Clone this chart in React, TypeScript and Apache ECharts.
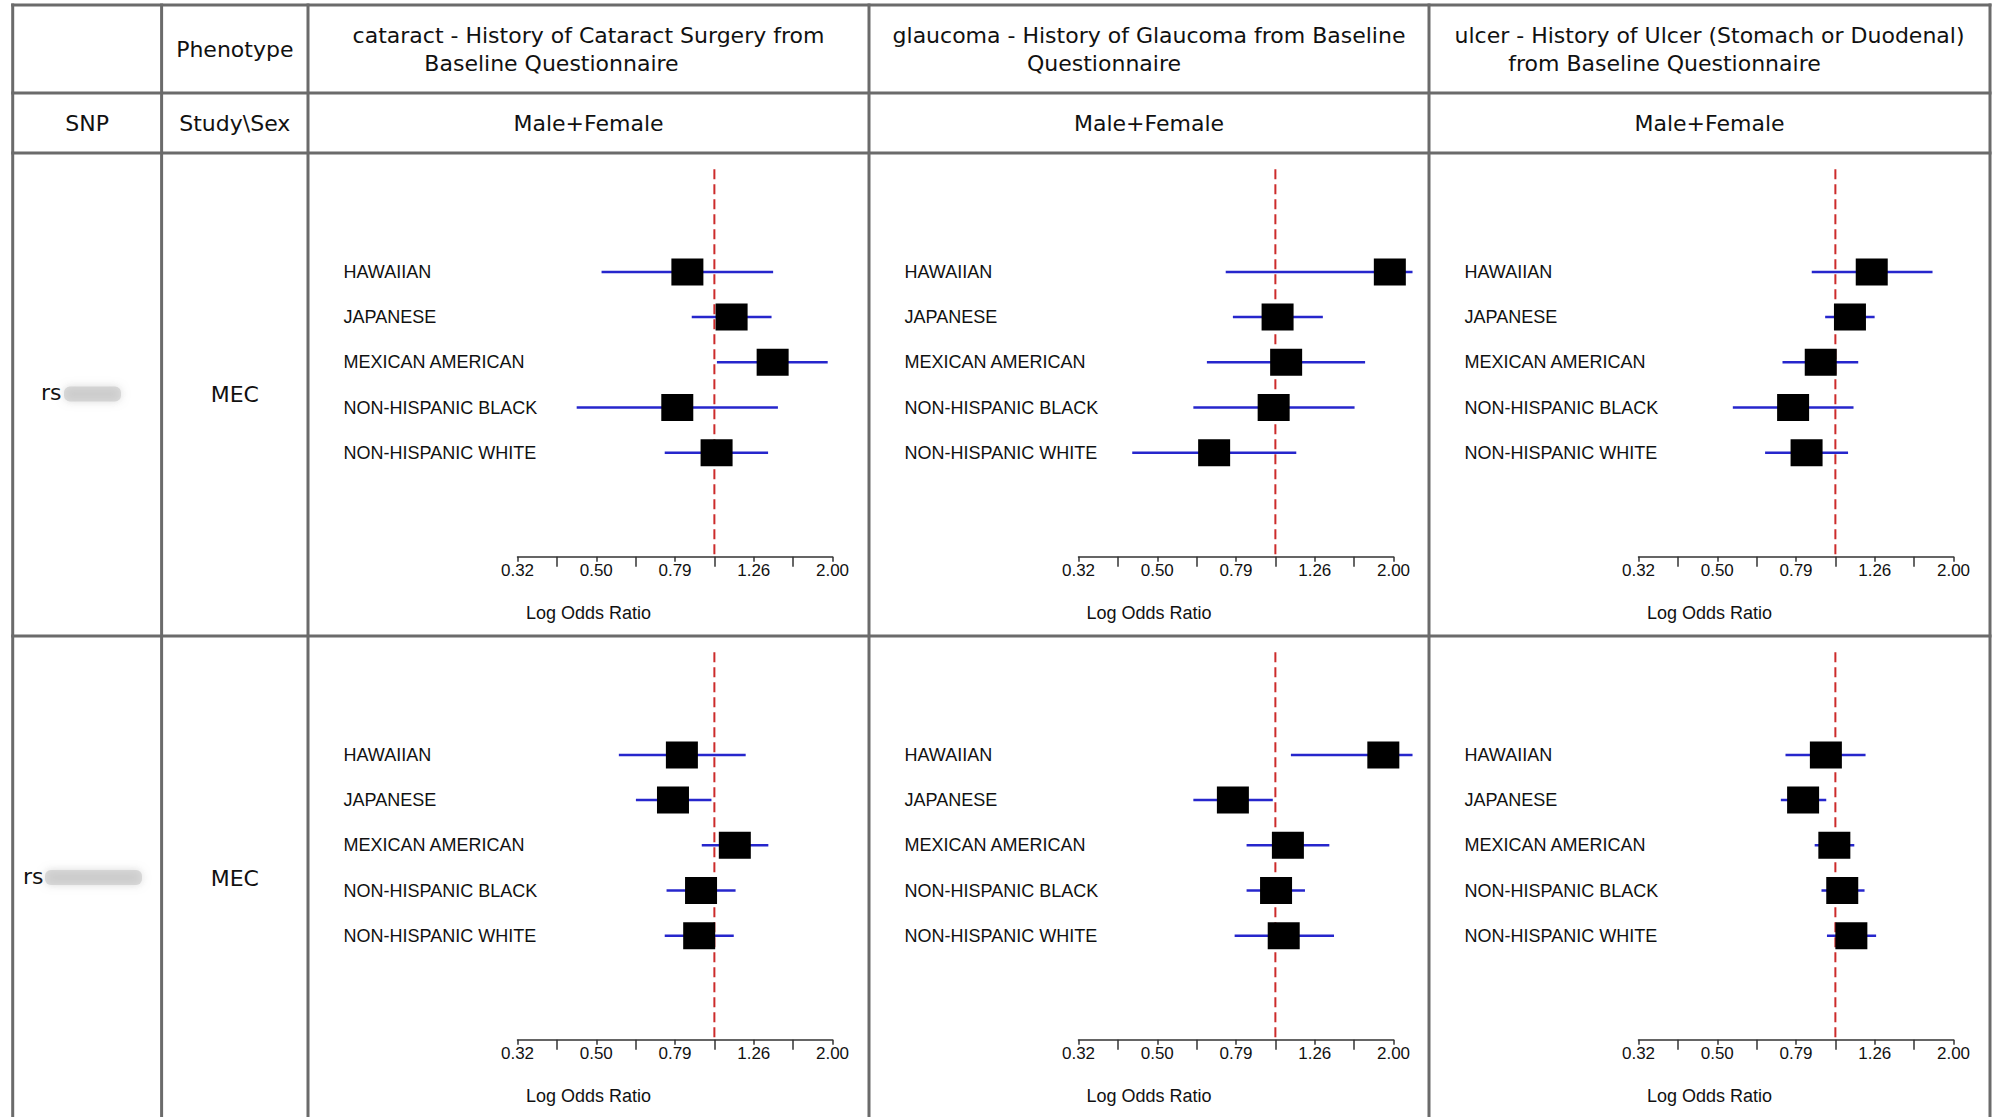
import React, { useEffect, useRef } from 'react';
import * as echarts from 'echarts';

// ---------------- data ----------------
const groups = ['HAWAIIAN', 'JAPANESE', 'MEXICAN AMERICAN', 'NON-HISPANIC BLACK', 'NON-HISPANIC WHITE'];

const phenotypeLine1 = [
  'cataract - History of Cataract Surgery from',
  'glaucoma - History of Glaucoma from Baseline',
  'ulcer - History of Ulcer (Stomach or Duodenal)',
];
const phenotypeLine2 = ['Baseline Questionnaire', 'Questionnaire', 'from Baseline Questionnaire'];
const sexLabels = ['Male+Female', 'Male+Female', 'Male+Female'];
const snpPrefixes = ['rs', 'rs'];
const studies = ['MEC', 'MEC'];

// x axis: log10(odds ratio)
const axisMinLog10 = -0.5;
const axisMaxLog10 = 0.3;
const majorTickLog10 = [-0.5, -0.3, -0.1, 0.1, 0.3];
const tickLabels = ['0.32', '0.50', '0.79', '1.26', '2.00'];
const minorTickLog10 = [-0.4, -0.2, 0, 0.2];
const referenceOR = 1;

// SNP 1 (rs....6265)
const cataract1OR = [0.854, 1.106, 1.406, 0.805, 1.013];
const cataract1Lo = [0.517, 0.876, 1.015, 0.447, 0.748];
const cataract1Hi = [1.41, 1.397, 1.94, 1.45, 1.369];

const glaucoma1OR = [1.953, 1.013, 1.065, 0.99, 0.699];
const glaucoma1Lo = [0.748, 0.78, 0.67, 0.619, 0.433];
const glaucoma1Hi = [2.23, 1.32, 1.69, 1.589, 1.13];

const ulcer1OR = [1.237, 1.089, 0.918, 0.781, 0.845];
const ulcer1Lo = [0.871, 0.942, 0.734, 0.549, 0.663];
const ulcer1Hi = [1.765, 1.258, 1.143, 1.112, 1.077];

// SNP 2 (rs....0136)
const cataract2OR = [0.827, 0.785, 1.127, 0.925, 0.915];
const cataract2Lo = [0.572, 0.632, 0.929, 0.756, 0.748];
const cataract2Hi = [1.201, 0.983, 1.371, 1.132, 1.12];

const glaucoma2OR = [1.88, 0.78, 1.076, 1.004, 1.05];
const glaucoma2Lo = [1.095, 0.619, 0.845, 0.845, 0.788];
const glaucoma2Hi = [2.23, 0.985, 1.371, 1.189, 1.409];

const ulcer2OR = [0.946, 0.828, 0.994, 1.041, 1.098];
const ulcer2Lo = [0.747, 0.727, 0.886, 0.922, 0.952];
const ulcer2Hi = [1.193, 0.948, 1.117, 1.186, 1.269];

const panels = [
  { or: cataract1OR, lo: cataract1Lo, hi: cataract1Hi },
  { or: glaucoma1OR, lo: glaucoma1Lo, hi: glaucoma1Hi },
  { or: ulcer1OR, lo: ulcer1Lo, hi: ulcer1Hi },
  { or: cataract2OR, lo: cataract2Lo, hi: cataract2Hi },
  { or: glaucoma2OR, lo: glaucoma2Lo, hi: glaucoma2Hi },
  { or: ulcer2OR, lo: ulcer2Lo, hi: ulcer2Hi },
];

// ---------------- layout / style ----------------
const COL_X = [12.7, 161.6, 308, 869, 1429, 1990];
const ROW_Y = [5, 93, 153, 636, 1120];
const BORDER = '#6b6b6b';
const FONT_HEAD = '"DejaVu Sans", Verdana, sans-serif';
const FONT_PLOT = '"Liberation Sans", Arial, Helvetica, sans-serif';
const HEAD_SIZE = 22;
const CI_COLOR = '#2626cc';
const REF_COLOR = '#cc2b2b';
const AXIS_COLOR = '#333333';
const TEXT_COLOR = '#111111';

function txt(text: string, x: number, y: number, fontSize: number, fontFamily: string, align = 'center') {
  return {
    type: 'text',
    x,
    y,
    silent: true,
    style: {
      text,
      fontSize,
      fontFamily,
      fill: TEXT_COLOR,
      align,
      verticalAlign: 'middle',
      textAlign: align,
      textVerticalAlign: 'middle',
    },
  };
}

function hline(y: number, x1: number, x2: number) {
  return { type: 'line', silent: true, shape: { x1, y1: y, x2, y2: y }, style: { stroke: BORDER, lineWidth: 3 } };
}
function vline(x: number, y1: number, y2: number) {
  return { type: 'line', silent: true, shape: { x1: x, y1, x2: x, y2 }, style: { stroke: BORDER, lineWidth: 3 } };
}

function buildOption() {
  const grids: any[] = [];
  const xAxes: any[] = [];
  const yAxes: any[] = [];
  const series: any[] = [];
  const graphics: any[] = [];

  // table borders
  ROW_Y.forEach((y) => graphics.push(hline(y, COL_X[0] - 1.5, COL_X[5] + 1.5)));
  COL_X.forEach((x) => graphics.push(vline(x, ROW_Y[0] - 1.5, ROW_Y[4])));

  const colCenter = (c: number) => (COL_X[c] + COL_X[c + 1]) / 2;

  // header row 1
  graphics.push(txt('Phenotype', colCenter(1), 49, HEAD_SIZE, FONT_HEAD));
  const line2Shift = [-37, -45, -45];
  phenotypeLine1.forEach((t, i) => {
    graphics.push(txt(t, colCenter(i + 2), 35.5, HEAD_SIZE, FONT_HEAD));
    graphics.push(txt(phenotypeLine2[i], colCenter(i + 2) + line2Shift[i], 63.5, HEAD_SIZE, FONT_HEAD));
  });
  // header row 2
  graphics.push(txt('SNP', colCenter(0), 123, HEAD_SIZE, FONT_HEAD));
  graphics.push(txt('Study\\Sex', colCenter(1), 123, HEAD_SIZE, FONT_HEAD));
  sexLabels.forEach((t, i) => graphics.push(txt(t, colCenter(i + 2), 123, HEAD_SIZE, FONT_HEAD)));

  // SNP + study cells
  const rsX = [41, 23];
  const blobX = [64, 45];
  const blobW = [57, 97];
  studies.forEach((s, r) => {
    const cy = (ROW_Y[r + 2] + ROW_Y[r + 3]) / 2;
    graphics.push(txt(s, colCenter(1), cy, HEAD_SIZE, FONT_HEAD));
    graphics.push(txt(snpPrefixes[r], rsX[r], cy - 2, HEAD_SIZE, FONT_HEAD, 'left'));
    graphics.push({
      type: 'rect',
      silent: true,
      shape: { x: blobX[r], y: cy - 8, width: blobW[r], height: 15, r: 6 },
      style: { fill: 'rgba(190,190,190,0.5)', shadowBlur: 8, shadowColor: 'rgba(175,175,175,0.9)' },
    });
  });

  panels.forEach((pnl, p) => {
    const r = Math.floor(p / 3);
    const c = p % 3;
    const left = COL_X[c + 2] + 209.5;
    const top = ROW_Y[r + 2] + 96.3;
    grids.push({ left, top, width: 315, height: 226, containLabel: false });

    const tickLine = { color: AXIS_COLOR, width: 1.5 };
    xAxes.push({
      gridIndex: p,
      type: 'value',
      min: axisMinLog10,
      max: axisMaxLog10,
      position: 'bottom',
      offset: 81.5,
      axisLine: { show: true, onZero: false, lineStyle: tickLine },
      axisTick: { show: true, length: 5, customValues: majorTickLog10, lineStyle: tickLine },
      axisLabel: {
        show: true,
        customValues: majorTickLog10,
        margin: 5,
        fontSize: 17,
        fontFamily: FONT_PLOT,
        color: TEXT_COLOR,
        formatter: (v: number) => {
          const idx = majorTickLog10.findIndex((m) => Math.abs(m - v) < 1e-6);
          return idx >= 0 ? tickLabels[idx] : '';
        },
      },
      splitLine: { show: false },
    });
    xAxes.push({
      gridIndex: p,
      type: 'value',
      min: axisMinLog10,
      max: axisMaxLog10,
      position: 'bottom',
      offset: 81.5,
      axisLine: { show: false, onZero: false },
      axisTick: { show: true, length: 10, customValues: minorTickLog10, lineStyle: tickLine },
      axisLabel: { show: false },
      splitLine: { show: false },
    });
    yAxes.push({
      gridIndex: p,
      type: 'category',
      data: groups,
      inverse: true,
      axisLine: { show: false },
      axisTick: { show: false },
      splitLine: { show: false },
      axisLabel: {
        align: 'left',
        margin: 174,
        fontSize: 18,
        fontFamily: FONT_PLOT,
        color: TEXT_COLOR,
      },
    });

    const xa = p * 2;
    series.push({
      type: 'custom',
      xAxisIndex: xa,
      yAxisIndex: p,
      clip: false,
      z: 2,
      encode: { x: [0, 1], y: 2 },
      data: groups.map((g, i) => [Math.log10(pnl.lo[i]), Math.log10(pnl.hi[i]), i]),
      renderItem: (params: any, api: any) => {
        const yi = api.value(2);
        const a = api.coord([api.value(0), yi]);
        const b = api.coord([api.value(1), yi]);
        return {
          type: 'line',
          shape: { x1: a[0], y1: a[1], x2: b[0], y2: b[1] },
          style: { stroke: CI_COLOR, lineWidth: 2.5 },
        };
      },
    });
    series.push({
      type: 'custom',
      xAxisIndex: xa,
      yAxisIndex: p,
      clip: false,
      z: 3,
      encode: { x: 0 },
      data: [[Math.log10(referenceOR)]],
      renderItem: (params: any, api: any) => {
        const cs = params.coordSys;
        const x = api.coord([api.value(0), 0])[0];
        return {
          type: 'line',
          shape: { x1: x, y1: cs.y - 80, x2: x, y2: cs.y + cs.height + 81.5 },
          style: { stroke: REF_COLOR, lineWidth: 2, lineDash: [10, 5] },
        };
      },
    });
    series.push({
      type: 'scatter',
      xAxisIndex: xa,
      yAxisIndex: p,
      clip: false,
      z: 4,
      symbol: 'rect',
      symbolSize: [32, 27],
      itemStyle: { color: '#000000', opacity: 1 },
      data: groups.map((g, i) => [Math.log10(pnl.or[i]), i]),
    });

    graphics.push(txt('Log Odds Ratio', colCenter(c + 2), ROW_Y[r + 2] + 460, 18, FONT_PLOT));
  });

  return {
    animation: false,
    backgroundColor: '#ffffff',
    grid: grids,
    xAxis: xAxes,
    yAxis: yAxes,
    series,
    graphic: { elements: graphics },
  };
}

export default function App() {
  const ref = useRef<HTMLDivElement>(null);
  useEffect(() => {
    if (!ref.current) return;
    const chart = echarts.init(ref.current, null, { renderer: 'svg' });
    chart.setOption(buildOption() as any);
    return () => {
      chart.dispose();
    };
  }, []);
  return (
    <div
      ref={ref}
      style={{ position: 'absolute', left: 0, top: 0, width: 1995, height: 1117, background: '#fff' }}
    />
  );
}
